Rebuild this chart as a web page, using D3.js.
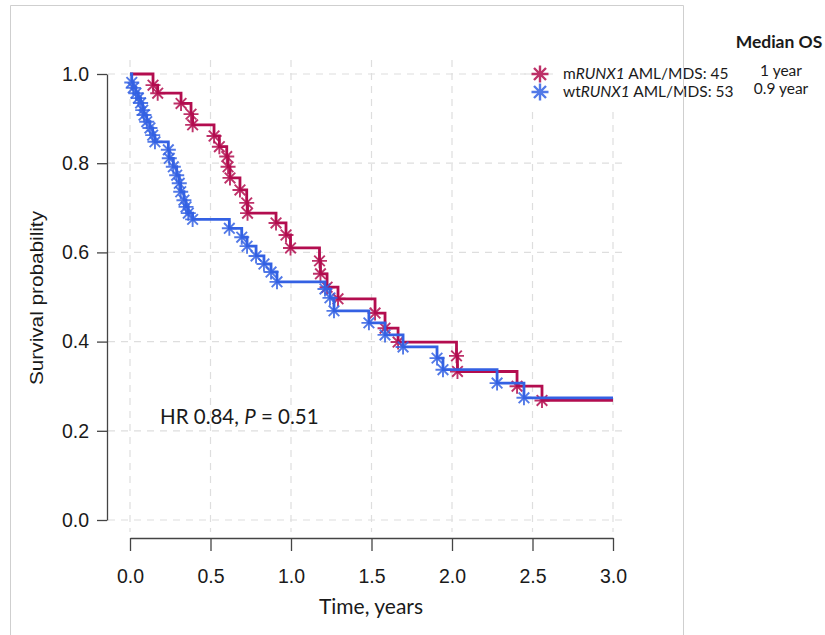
<!DOCTYPE html>
<html><head><meta charset="utf-8">
<script src="https://cdn.jsdelivr.net/npm/d3@7"></script>
<style>body{margin:0;background:#fff}svg{display:block}</style>
</head><body><svg id="c" width="825" height="635"></svg>
<script>
// ---- data ----
const xTicks = [0, 0.5, 1.0, 1.5, 2.0, 2.5, 3.0];
const yTicks = [0, 0.2, 0.4, 0.6, 0.8, 1.0];
const seriesNames = ["mRUNX1", "wtRUNX1"];
const seriesN = [45, 53];
const medianOS = ["1 year", "0.9 year"];
const redTime = [0, 0.143, 0.172, 0.317, 0.379, 0.389, 0.522, 0.555, 0.601, 0.609, 0.621, 0.683, 0.725, 0.730, 0.907, 0.969, 0.997, 1.177, 1.183, 1.224, 1.292, 1.522, 1.584, 1.665, 2.028, 2.034, 2.404, 2.559, 3.0];
const redSurv = [1.0, 0.975, 0.957, 0.934, 0.910, 0.886, 0.861, 0.837, 0.815, 0.792, 0.767, 0.740, 0.711, 0.688, 0.666, 0.639, 0.610, 0.581, 0.552, 0.522, 0.496, 0.464, 0.430, 0.399, 0.368, 0.333, 0.300, 0.268, 0.268];
const blueTime = [0, 0.011, 0.020, 0.037, 0.052, 0.066, 0.079, 0.087, 0.104, 0.124, 0.141, 0.155, 0.238, 0.244, 0.269, 0.290, 0.306, 0.315, 0.335, 0.348, 0.362, 0.389, 0.617, 0.694, 0.727, 0.783, 0.832, 0.876, 0.913, 1.211, 1.242, 1.267, 1.484, 1.584, 1.696, 1.907, 1.944, 2.280, 2.447, 3.0];
const blueSurv = [1.0, 0.981, 0.969, 0.957, 0.946, 0.935, 0.919, 0.908, 0.893, 0.879, 0.863, 0.848, 0.830, 0.811, 0.792, 0.773, 0.755, 0.736, 0.717, 0.702, 0.688, 0.674, 0.654, 0.634, 0.614, 0.592, 0.574, 0.556, 0.534, 0.518, 0.498, 0.469, 0.442, 0.415, 0.388, 0.363, 0.337, 0.307, 0.274, 0.274];

const RED = "#b30d4f", BLUE = "#3461e3";
const svg = d3.select("#c");
const x = d3.scaleLinear().domain([0, 3]).range([130, 613]);
const y = d3.scaleLinear().domain([0, 1]).range([520, 74]);

// panel border
svg.append("path").attr("d", "M10.5,640 V5.5 H683.5 V640").attr("fill", "none").attr("stroke", "#cfcfcf").attr("stroke-width", 1);

// grid
const grid = svg.append("g").attr("stroke", "#dedede").attr("stroke-width", 1.2).attr("stroke-dasharray", "7,6");
xTicks.forEach(t => grid.append("line").attr("x1", x(t)).attr("x2", x(t)).attr("y1", 60).attr("y2", 532));
yTicks.forEach(t => grid.append("line").attr("x1", 108).attr("x2", 626).attr("y1", y(t)).attr("y2", y(t)));

// axes
const fmt = d3.format(".1f");
const yAxis = svg.append("g").attr("transform", "translate(107,0)")
  .call(d3.axisLeft(y).tickValues(yTicks).tickFormat(fmt).tickSize(10).tickSizeOuter(0).tickPadding(8));
const xAxis = svg.append("g").attr("transform", "translate(0,538)")
  .call(d3.axisBottom(x).tickValues(xTicks).tickFormat(fmt).tickSize(13).tickSizeOuter(0).tickPadding(18));
[yAxis, xAxis].forEach(a => {
  a.selectAll("path,line").attr("stroke", "#444").attr("stroke-width", 1.3);
  a.selectAll("text").attr("font-family", "Liberation Sans, Arial, sans-serif").attr("font-size", 19.5).attr("fill", "#1a1a1a");
});

// axis titles
svg.append("text").attr("transform", "translate(43,298) rotate(-90)").attr("text-anchor", "middle")
  .attr("font-family", "Liberation Sans, Arial, sans-serif").attr("font-size", 18.5).attr("fill", "#1a1a1a")
  .attr("textLength", 174).attr("lengthAdjust", "spacingAndGlyphs").text("Survival probability");
svg.append("text").attr("x", 371).attr("y", 614).attr("text-anchor", "middle")
  .attr("font-family", "Lato, sans-serif").attr("font-size", 21).attr("fill", "#1a1a1a").text("Time, years");

// HR annotation
const hr = svg.append("text").attr("x", 160).attr("y", 424)
  .attr("font-family", "Lato, sans-serif").attr("font-size", 20.5).attr("fill", "#1a1a1a");
hr.append("tspan").text("HR 0.84, ");
hr.append("tspan").attr("font-style", "italic").text("P");
hr.append("tspan").text(" = 0.51");

// marker
function star(g, cx, cy, color, r, w) {
  const p = [];
  for (let k = 0; k < 4; k++) {
    const a = k * Math.PI / 4;
    p.push(`M${cx - r * Math.cos(a)},${cy - r * Math.sin(a)}L${cx + r * Math.cos(a)},${cy + r * Math.sin(a)}`);
  }
  g.append("path").attr("d", p.join("")).attr("stroke", color).attr("stroke-width", w).attr("fill", "none").attr("opacity", 0.85);
}

// curves
const line = d3.line().x(d => x(d[0])).y(d => y(d[1])).curve(d3.curveStepAfter);
function drawSeries(times, survs, color) {
  const pts = times.map((t, i) => [t, survs[i]]);
  svg.append("path").datum(pts).attr("d", line).attr("fill", "none").attr("stroke", color).attr("stroke-width", 2.8);
  const g = svg.append("g");
  pts.slice(1, -1).forEach(d => star(g, x(d[0]), y(d[1]), color, 7.5, 1.9));
}
drawSeries(redTime, redSurv, RED);
drawSeries(blueTime, blueSurv, BLUE);

// legend
svg.append("rect").attr("x", 526).attr("y", 60).attr("width", 156).attr("height", 48).attr("fill", "#fff");
svg.append("line").attr("x1", 520).attr("x2", 553).attr("y1", y(1)).attr("y2", y(1)).attr("stroke", "#dedede").attr("stroke-width", 1.2);
const lg = svg.append("g").attr("font-family", "Lato, sans-serif").attr("font-size", 15.5).attr("fill", "#1a1a1a");
[RED, BLUE].forEach((c, i) => {
  const yy = 74 + i * 18;
  star(lg, 540, yy, c, 8.5, 2.4);
  const t = lg.append("text").attr("x", 563).attr("y", yy + 5);
  const nm = seriesNames[i];
  t.append("tspan").text(nm.replace("RUNX1", ""));
  t.append("tspan").attr("font-style", "italic").text("RUNX1");
  t.append("tspan").text(" AML/MDS: " + seriesN[i]);
  lg.append("text").attr("x", 781).attr("y", yy + 2).attr("text-anchor", "middle").text(medianOS[i]);
});
svg.append("line").attr("x1", 683.5).attr("x2", 683.5).attr("y1", 60).attr("y2", 110).attr("stroke", "#cfcfcf");
svg.append("text").attr("x", 779).attr("y", 48).attr("text-anchor", "middle")
  .attr("font-family", "Lato, sans-serif").attr("font-weight", "bold").attr("font-size", 17.5).attr("fill", "#1a1a1a").text("Median OS");
</script></body></html>
